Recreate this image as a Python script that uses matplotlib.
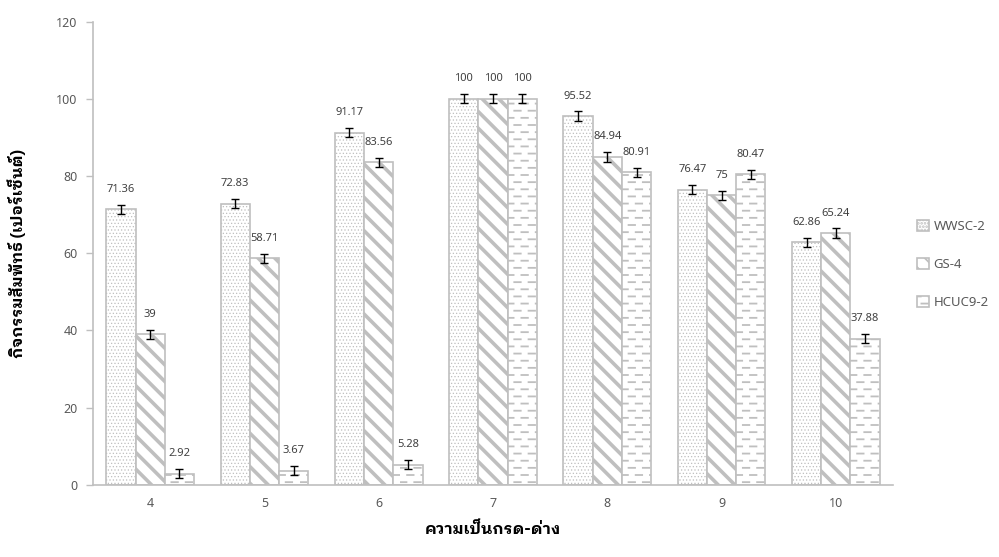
import numpy as np
import matplotlib
matplotlib.use('Agg')
import matplotlib.pyplot as plt
from matplotlib import hatch as mhatch
from matplotlib.path import Path

ph_levels = ['4', '5', '6', '7', '8', '9', '10']
series_names = ['WWSC-2', 'GS-4', 'HCUC9-2']
wwsc = [71.36, 72.83, 91.17, 100, 95.52, 76.47, 62.86]
gs4 = [39, 58.71, 83.56, 100, 84.94, 75, 65.24]
hcuc = [2.92, 3.67, 5.28, 100, 80.91, 80.47, 37.88]
err_wwsc = [1.2, 1.2, 1.2, 1.2, 1.2, 1.2, 1.2]
err_gs4 = [1.2, 1.2, 1.2, 1.2, 1.2, 1.2, 1.2]
err_hcuc = [1.2, 1.2, 1.2, 1.2, 1.2, 1.2, 1.2]
y_ticks = [0, 20, 40, 60, 80, 100, 120]


# dashed horizontal lines for '-' (excel style "dashed horizontal" pattern)
class DashedHorizontal(mhatch.HatchPatternBase):
    def __init__(self, hatch, density):
        self.num_rows = int((hatch.count('-') + hatch.count('+')) * 7)
        self.num_dash = 7
        self.num_vertices = self.num_rows * self.num_dash * 2

    def set_vertices_and_codes(self, vertices, codes):
        ys = (np.arange(self.num_rows) + 0.5) / self.num_rows
        period = 1.0 / self.num_dash
        i = 0
        for r, y in enumerate(ys):
            shift = 0.5 * period if r % 2 else 0.0
            for k in range(self.num_dash):
                x0 = k * period + shift
                vertices[i] = (x0, y)
                vertices[i + 1] = (x0 + 0.45 * period, y)
                codes[i] = Path.MOVETO
                codes[i + 1] = Path.LINETO
                i += 2


mhatch._hatch_types = [DashedHorizontal if t is mhatch.HorizontalHatch else t
                       for t in mhatch._hatch_types]

thai = ['IBM Plex Sans Thai Looped', 'Noto Sans Thai Looped', 'DejaVu Sans']
plt.rcParams['font.family'] = ['Noto Sans', 'Noto Sans Thai Looped', 'DejaVu Sans']
plt.rcParams['hatch.color'] = '#bfbfbf'

grey = '#bfbfbf'
text_col = '#595959'

fig = plt.figure(figsize=(9.99, 5.57), dpi=100)
ax = fig.add_axes([0.0931, 0.1293, 0.8008, 0.8321])

x = np.arange(len(ph_levels))
w = 0.256
styles = [('.....', 0.5), ('\\\\', 2.6), ('--', 1.3)]
values = [wwsc, gs4, hcuc]
errors = [err_wwsc, err_gs4, err_hcuc]

for i, (vals, errs, name) in enumerate(zip(values, errors, series_names)):
    hatch, lw = styles[i]
    plt.rcParams['hatch.linewidth'] = lw
    bars = ax.bar(x + (i - 1) * w, vals, w, color='white', edgecolor=grey,
                  linewidth=1.2, hatch=hatch, label=name, zorder=2)
    for b in bars:
        if hasattr(b, 'set_hatch_linewidth'):
            b.set_hatch_linewidth(lw)
    ax.errorbar(x + (i - 1) * w, vals, yerr=errs, fmt='none', ecolor='black',
                elinewidth=1, capsize=3, capthick=1, zorder=3)
    for xi, v in zip(x + (i - 1) * w, vals):
        ax.annotate('{:g}'.format(v), (xi, v), xytext=(0, 20), textcoords='offset pixels',
                    ha='center', va='center', fontsize=8, color='#404040')

ax.set_xlim(-0.5, len(ph_levels) - 0.5)
ax.set_ylim(0, 120)
ax.set_yticks(y_ticks)
ax.set_xticks(x)
ax.set_xticklabels(ph_levels)
ax.tick_params(axis='y', colors=grey, labelcolor=text_col, labelsize=9, length=5, width=1, pad=6)
ax.tick_params(axis='x', length=0, labelcolor=text_col, labelsize=9, pad=9)
for s in ['top', 'right']:
    ax.spines[s].set_visible(False)
for s in ['left', 'bottom']:
    ax.spines[s].set_color(grey)
    ax.spines[s].set_linewidth(1.2)

ax.set_xlabel('ความเป็นกรด-ด่าง', fontsize=11.5, fontweight='bold', color='black',
              family=thai, labelpad=8)
ax.set_ylabel('กิจกรรมสัมพัทธ์ (เปอร์เซ็นต์)', fontsize=11.5, fontweight='bold', color='black',
              family=thai, labelpad=22)

leg = fig.legend(loc='center left', bbox_to_anchor=(0.906, 0.525), frameon=False,
                 fontsize=9.5, labelspacing=1.9, handlelength=0.9, handleheight=0.9,
                 handletextpad=0.35, labelcolor=text_col)

fig.savefig('out.png', dpi=100)
